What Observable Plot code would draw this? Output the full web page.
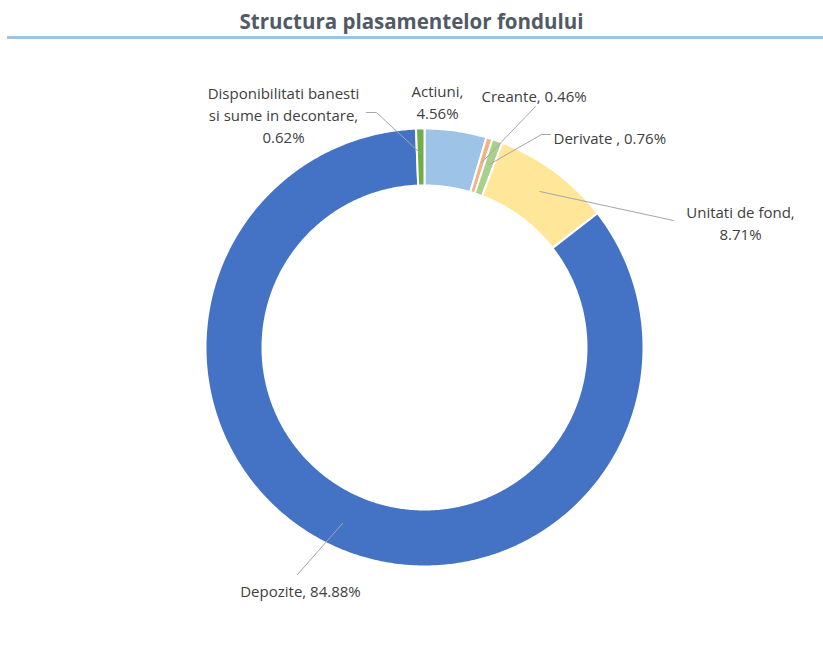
<!DOCTYPE html>
<html><head><meta charset="utf-8">
<script src="https://cdn.jsdelivr.net/npm/d3@7"></script>
<script src="https://cdn.jsdelivr.net/npm/@observablehq/plot@0.6"></script>
<style>
body{margin:0;background:#fff;font-family:"Open Sans",sans-serif;}
#title{height:36px;line-height:42px;text-align:center;font-weight:bold;font-size:20.5px;color:#505a66;}
#rule{height:3px;background:#9DC3E6;margin-left:7px;}
#chart svg{display:block;}
</style></head><body>
<div id="title">Structura plasamentelor fondului</div>
<div id="rule"></div>
<div id="chart"></div>
<script>
// ---- data ----
const categories = ["Actiuni","Creante","Derivate","Unitati de fond","Depozite","Disponibilitati banesti si sume in decontare"];
const values = [4.56, 0.46, 0.76, 8.71, 84.88, 0.62];
const labelTexts = ["Actiuni,\n4.56%","Creante, 0.46%","Derivate , 0.76%","Unitati de fond,\n8.71%","Depozite, 84.88%","Disponibilitati banesti\nsi sume in decontare,\n0.62%"];
const colors = ["#9DC3E6","#F4B183","#A9D18E","#FFE699","#4472C4","#70AD47"];

// ---- layout (page pixel coordinates) ----
const W = 823, H = 614, TOP = 39;
const CX = 424, CY = 347;          // donut center on page
const R_OUT = 219, R_IN = 162, R_ANCHOR = 194;
const labelLayout = [
  {pos:[437,100], anchor:"middle", leader:null},
  {pos:[481,94],  anchor:"start",  leader:[[535,106]]},
  {pos:[553,136], anchor:"start",  leader:[[550,134],[541,134]]},
  {pos:[740,221], anchor:"middle", leader:[[673,220]]},
  {pos:[300,589], anchor:"middle", leader:[[297,574]]},
  {pos:[283,113], anchor:"middle", leader:[[366,112],[376,112]]}
];
const toX = px => px - CX, toY = py => CY - py;

// ---- build slices ----
const total = d3.sum(values);
let acc = 0;
const slices = values.map((v, i) => {
  const a0 = acc / total * 2 * Math.PI; acc += v;
  const a1 = acc / total * 2 * Math.PI;
  return {key: categories[i], a0, a1, mid: (a0 + a1) / 2};
});
const polar = (r, a) => [r * Math.sin(a), r * Math.cos(a)];
const pts = [];
for (const s of slices) {
  const n = Math.max(2, Math.ceil((s.a1 - s.a0) / (Math.PI / 360)));
  const ring = [];
  for (let k = 0; k <= n; k++) ring.push(polar(R_OUT, s.a0 + (s.a1 - s.a0) * k / n));
  for (let k = n; k >= 0; k--) ring.push(polar(R_IN, s.a0 + (s.a1 - s.a0) * k / n));
  ring.push(ring[0]);
  for (const [x, y] of ring) pts.push({key: s.key, x, y});
}
const leaders = [];
slices.forEach((s, i) => {
  const L = labelLayout[i].leader;
  if (!L) return;
  L.forEach(([px, py]) => leaders.push({id: i, x: toX(px), y: toY(py)}));
  const [ax, ay] = polar(R_ANCHOR, s.mid);
  leaders.push({id: i, x: ax, y: ay});
});
const labels = slices.map((s, i) => ({
  text: labelTexts[i], x: toX(labelLayout[i].pos[0]), y: toY(labelLayout[i].pos[1]), anchor: labelLayout[i].anchor
}));

const FS = 15, LH = 22 / 15;
const chart = Plot.plot({
  width: W, height: H, margin: 0,
  x: {domain: [-CX, W - CX], axis: null},
  y: {domain: [(CY - TOP) - H, CY - TOP], axis: null},
  color: {domain: categories, range: colors},
  style: {background: "white", fontFamily: "'Open Sans', sans-serif", overflow: "visible"},
  marks: [
    Plot.line(pts, {x: "x", y: "y", z: "key", fill: "key", stroke: "white", strokeWidth: 2, curve: "linear"}),
    Plot.line(leaders, {x: "x", y: "y", z: "id", stroke: "#A6A6A6", strokeWidth: 1}),
    Plot.text(labels.filter(d => d.anchor === "middle"), {x: "x", y: "y", text: "text", textAnchor: "middle", lineAnchor: "middle", lineHeight: LH, fontSize: FS, fill: "#404040"}),
    Plot.text(labels.filter(d => d.anchor === "start"), {x: "x", y: "y", text: "text", textAnchor: "start", lineAnchor: "middle", lineHeight: LH, fontSize: FS, fill: "#404040"})
  ]
});
document.getElementById("chart").appendChild(chart);
</script>
</body></html>
